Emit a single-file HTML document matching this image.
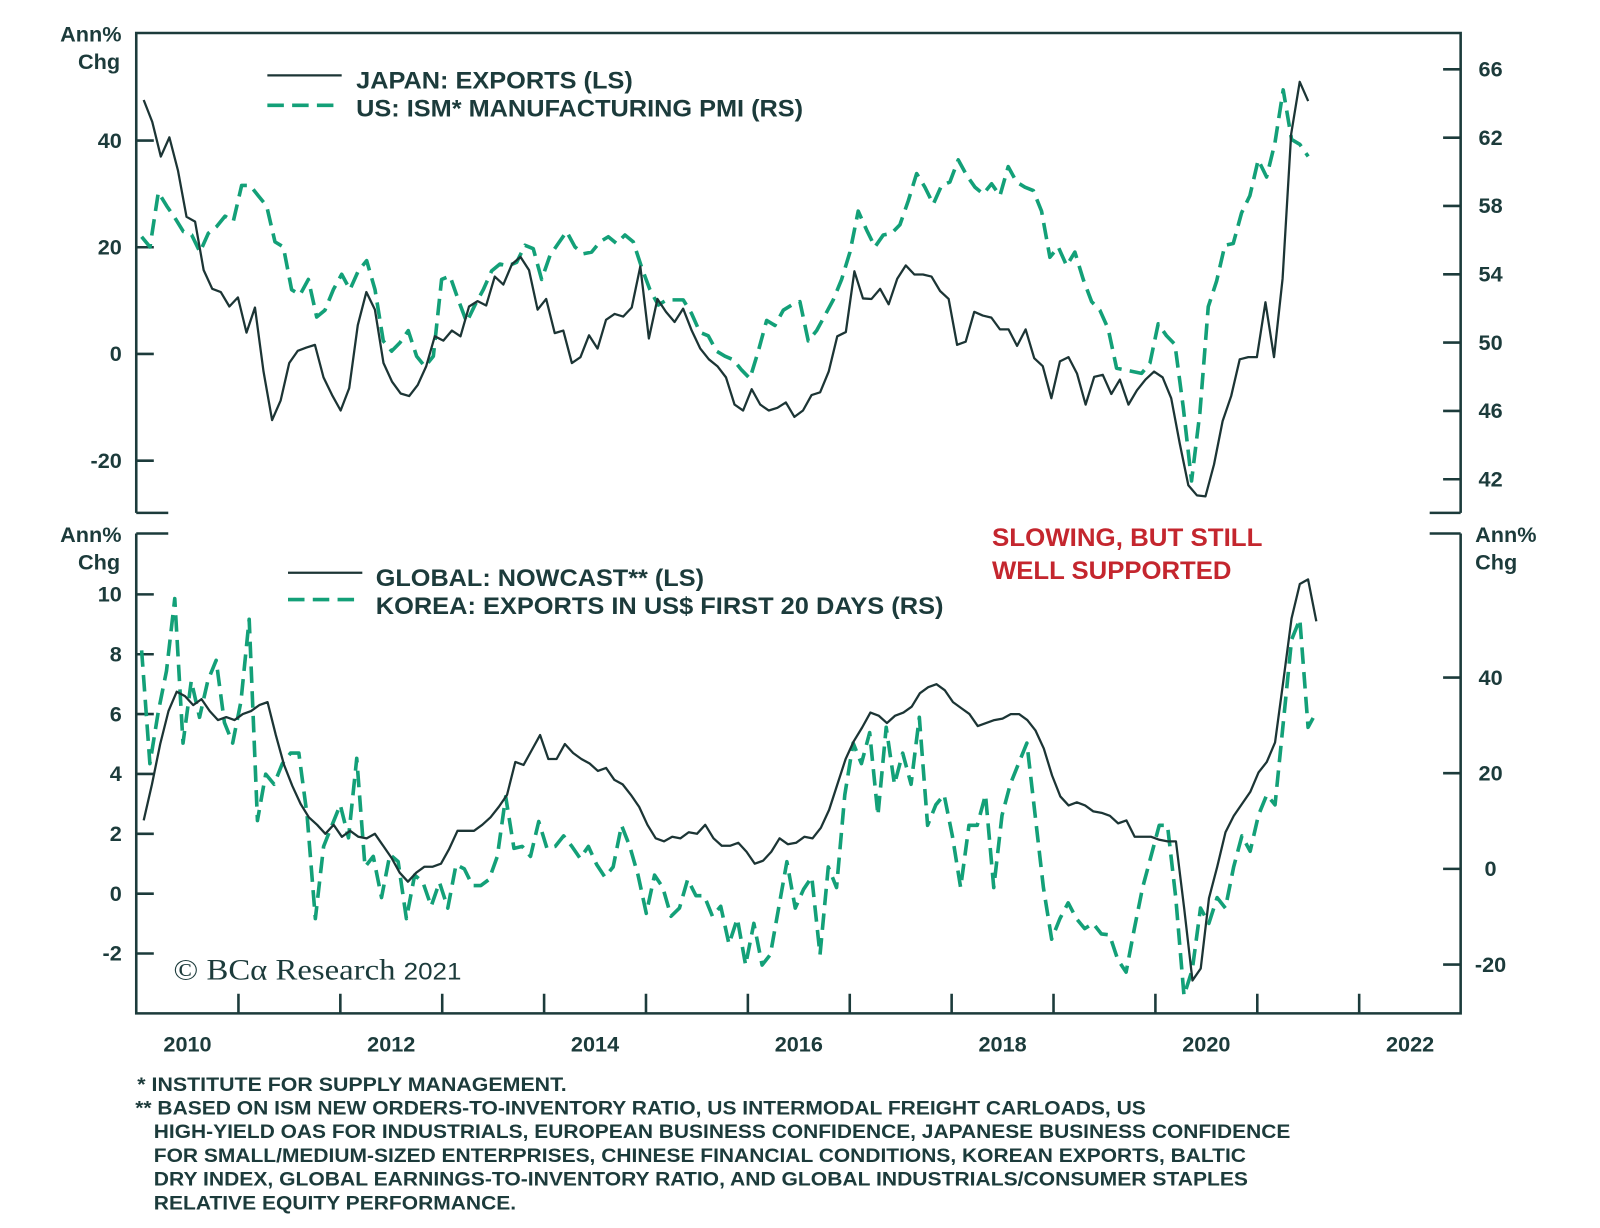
<!DOCTYPE html>
<html><head><meta charset="utf-8"><style>
html,body{margin:0;padding:0;background:#fff;}
svg{display:block;}
text{font-family:"Liberation Sans",sans-serif;font-weight:bold;fill:#1c3b3b;}
</style></head><body>
<svg id="chart" width="1600" height="1228" viewBox="0 0 1550 1190" preserveAspectRatio="none" xmlns="http://www.w3.org/2000/svg">
<g id="frame" stroke="#1c3b3b" stroke-width="2.5" fill="none">
<path d="M132,497 V32 H1415 V497"/>
<path d="M132,497 H163 M1385,497 H1415"/>
<path d="M132,517 V982 H1415 V517"/>
<path d="M132,517 H163 M1385,517 H1415"/>
</g>
<g id="ticks" stroke="#1c3b3b" stroke-width="2.5"></g>
<g id="labels" font-size="21"></g>
<g id="series"></g>
<g font-size="21" text-anchor="middle">
<text x="88" y="40">Ann%</text><text x="96" y="67">Chg</text></g>
<g font-size="21" text-anchor="middle">
<text x="88" y="525">Ann%</text><text x="96" y="552">Chg</text></g>
<g font-size="21">
<text x="1429" y="525">Ann%</text><text x="1429" y="552">Chg</text></g>
<g font-size="23">
<line x1="259" y1="73" x2="331" y2="73" stroke="#1c3535" stroke-width="2.2"/>
<text x="345" y="86" textLength="268" lengthAdjust="spacingAndGlyphs">JAPAN: EXPORTS (LS)</text>
<line x1="259" y1="102" x2="331" y2="102" stroke="#13a078" stroke-width="3.5" stroke-dasharray="16,8"/>
<text x="345" y="113" textLength="433" lengthAdjust="spacingAndGlyphs">US: ISM* MANUFACTURING PMI (RS)</text>
</g>
<g font-size="23">
<line x1="279" y1="555" x2="351" y2="555" stroke="#1c3535" stroke-width="2.2"/>
<text x="364" y="568" textLength="318" lengthAdjust="spacingAndGlyphs">GLOBAL: NOWCAST** (LS)</text>
<line x1="279" y1="581" x2="351" y2="581" stroke="#13a078" stroke-width="3.5" stroke-dasharray="16,8"/>
<text x="364" y="595" textLength="550" lengthAdjust="spacingAndGlyphs">KOREA: EXPORTS IN US$ FIRST 20 DAYS (RS)</text>
</g>
<g font-size="24">
<text x="961" y="529" textLength="262" lengthAdjust="spacingAndGlyphs" style="fill:#c4262e">SLOWING, BUT STILL</text>
<text x="961" y="561" textLength="232" lengthAdjust="spacingAndGlyphs" style="fill:#c4262e">WELL SUPPORTED</text>
</g>
<text x="168" y="949" textLength="279" lengthAdjust="spacingAndGlyphs" style="font-family:'Liberation Serif',serif;font-weight:normal;font-size:29px;fill:#1c3b3b">© BCα Research <tspan style="font-family:'Liberation Sans',sans-serif;font-size:23px">2021</tspan></text>
<g font-size="19">
<text x="133" y="1057" textLength="416" lengthAdjust="spacingAndGlyphs">*  INSTITUTE FOR SUPPLY MANAGEMENT.</text>
<text x="131" y="1080" textLength="979" lengthAdjust="spacingAndGlyphs">** BASED ON ISM NEW ORDERS-TO-INVENTORY RATIO, US INTERMODAL FREIGHT CARLOADS, US</text>
<text x="149" y="1103" textLength="1101" lengthAdjust="spacingAndGlyphs">HIGH-YIELD OAS FOR INDUSTRIALS, EUROPEAN BUSINESS CONFIDENCE, JAPANESE BUSINESS CONFIDENCE</text>
<text x="149" y="1126" textLength="1058" lengthAdjust="spacingAndGlyphs">FOR SMALL/MEDIUM-SIZED ENTERPRISES, CHINESE FINANCIAL CONDITIONS, KOREAN EXPORTS, BALTIC</text>
<text x="149" y="1149" textLength="1060" lengthAdjust="spacingAndGlyphs">DRY INDEX, GLOBAL EARNINGS-TO-INVENTORY RATIO, AND GLOBAL INDUSTRIALS/CONSUMER STAPLES</text>
<text x="149" y="1172" textLength="351" lengthAdjust="spacingAndGlyphs">RELATIVE EQUITY PERFORMANCE.</text>
</g>
</svg>
<script>
const xYears = [2010,2012,2014,2016,2018,2020,2022];
const topLeftTicks = [40,20,0,-20];
const topRightTicks = [66,62,58,54,50,46,42];
const botLeftTicks = [10,8,6,4,2,0,-2];
const botRightTicks = [40,20,0,-20];
const japanRange = [2010.07, 2021.50];
const ismRange = [2010.05, 2021.50];
const nowRange = [2010.07, 2021.58];
const koreaRange = [2010.05, 2021.58];
const japanExports = [47.6,43.5,37,40.6,34.4,25.7,24.8,15.7,12.2,11.6,8.9,10.6,4,8.7,-3.3,-12.4,-8.7,-1.7,0.6,1.2,1.7,-4.4,-7.7,-10.6,-6.4,5.4,11.6,8.3,-1.7,-5.2,-7.4,-7.9,-5.8,-2.3,3.3,2.5,4.4,3.3,8.9,9.9,9.1,14.5,13,16.8,18.2,15.7,8.3,10.3,3.9,4.4,-1.7,-0.6,3.5,1,6.4,7.5,7,8.7,16.4,2.9,10.3,7.9,6,8.5,4.4,1,-1,-2.3,-4.4,-9.5,-10.6,-6.6,-9.5,-10.6,-10.1,-9.1,-11.8,-10.6,-7.7,-7.2,-3.3,3.3,4.1,15.5,10.4,10.3,12.2,9.3,14.1,16.6,14.9,14.9,14.5,11.8,10.3,1.7,2.3,7.9,7.2,6.8,4.6,4.6,1.5,4.6,-0.8,-2.3,-8.3,-1.4,-0.6,-3.7,-9.5,-4.3,-3.9,-7.5,-4.8,-9.5,-6.8,-4.8,-3.3,-4.4,-8.3,-16.8,-24.6,-26.5,-26.7,-20.7,-12.6,-7.9,-1,-0.6,-0.6,9.7,-0.6,14.1,41.2,51,47.4];
const ismPmi = [56.2,55.6,58.8,58,57.3,56.5,56.3,55.3,56.4,56.8,57.4,57.1,59.2,59.2,58.6,58,55.9,55.6,53.1,52.8,53.7,51.5,51.9,53.1,54,53.1,54.2,54.8,53.1,50.1,49.5,50,50.7,49.2,48.6,49.2,53.7,53.9,52.5,51.2,52.2,53.1,54.2,54.6,54.5,54.7,55.7,55.5,53.7,55.1,55.8,56.5,55.6,55.2,55.3,55.9,56.2,55.8,56.3,55.9,54.4,53.1,52.2,52.5,52.5,52.5,51.7,50.6,50.4,49.5,49.2,49,48.4,47.9,49.5,51.3,51,51.9,52.2,52.4,50.1,50.7,51.6,52.5,53.7,55.3,57.7,56.6,55.6,56.3,56.4,56.9,58.3,59.9,59.1,58.1,59.2,59.4,60.7,59.8,59.1,58.7,59.3,58.6,60.3,59.4,59.1,58.9,57.7,55,55.6,54.5,55.3,53.7,52.4,51.9,50.8,48.5,48.4,48.3,48.2,48.8,51.1,50.4,49.9,46.2,41.9,45.9,52.1,53.6,55.7,55.8,57.6,58.6,60.7,59.7,61.7,64.8,61.9,61.6,60.9];
const globalNowcast = [2.45,3.65,5,6.1,6.75,6.6,6.3,6.5,6.1,5.8,5.9,5.8,6,6.1,6.3,6.4,5.3,4.3,3.6,3.0,2.55,2.3,2.0,2.3,1.9,2.1,1.9,1.85,2.0,1.6,1.2,0.7,0.4,0.7,0.9,0.9,1.0,1.5,2.1,2.1,2.1,2.3,2.55,2.9,3.3,4.4,4.3,4.8,5.3,4.5,4.5,5.0,4.7,4.5,4.35,4.1,4.2,3.8,3.65,3.3,2.9,2.3,1.85,1.75,1.9,1.85,2.05,2.0,2.3,1.85,1.6,1.6,1.7,1.4,1.0,1.1,1.4,1.85,1.65,1.7,1.9,1.85,2.2,2.8,3.65,4.5,5.1,5.55,6.05,5.95,5.7,5.95,6.05,6.25,6.7,6.9,7.0,6.8,6.4,6.2,6.0,5.6,5.7,5.8,5.85,6.0,6.0,5.8,5.45,4.85,3.95,3.25,2.95,3.05,2.95,2.75,2.7,2.6,2.35,2.45,1.9,1.9,1.9,1.8,1.75,1.75,-0.5,-2.9,-2.5,-0.15,0.9,2.05,2.6,3.0,3.4,4.05,4.4,5.05,7.1,9.2,10.35,10.5,9.1];
const koreaExports = [45.7,22,32.8,41.4,56.5,26.3,39.3,31.7,39.3,43.6,30.6,26.3,35,52.2,10.1,19.8,17.7,22,24.2,24.2,11.2,-10.4,4.7,9.1,13.4,6.5,23.1,0.4,2.6,-6,3,1.5,-10.4,-1.3,-2.8,-7.8,-2.8,-8.2,0.9,0,-3.5,-3.5,-2.2,2.6,15.1,4.3,4.7,2.6,9.9,4.3,4.7,6.9,4.7,2.2,4.7,0.9,-1.7,0.4,9.1,4.7,-1.3,-9.3,-1.3,-3.9,-9.9,-8.2,-2.2,-5.6,-5.6,-9.9,-7.8,-15.7,-10.4,-20.1,-11.4,-20.1,-17.9,-8.2,1.5,-8.2,-4.3,-1.7,-17.9,0.4,-3.9,15.5,26.3,22,28.5,11.2,29.6,17.7,24.2,17.7,31.7,9.1,13.4,15.5,6.9,-3.9,9.1,9.1,15.5,-3.9,11.2,17.7,22,26.3,11.2,-3.9,-14.7,-10.4,-7.1,-10.4,-12.5,-11.4,-13.6,-13.8,-19,-21.6,-12.5,-3.9,2.6,9.1,9.1,-6,-26.5,-21.1,-8.2,-11.4,-6,-8.2,0.4,6.9,3.7,11.2,15.5,13.4,30.6,47.9,52.2,29.6,32.8];

const NS = "http://www.w3.org/2000/svg";
const X0 = 132.3, PXY = 98.7;
function xOf(t){ return X0 + (t - 2010) * PXY; }
function yTL(v){ return 343 - v * 5.17; }
function yTR(v){ return 332 - (v - 50) * 16.55; }
function yBL(v){ return 866 - v * 29; }
function yBR(v){ return 842 - v * 4.635; }
const ticks = document.getElementById('ticks');
const labels = document.getElementById('labels');
const series = document.getElementById('series');
function mk(tag, attrs, parent){ const e = document.createElementNS(NS, tag); for (const k in attrs) e.setAttribute(k, attrs[k]); parent.appendChild(e); return e; }

function leftAxis(vals, yf, name){
  vals.forEach(v => {
    const y = yf(v);
    const t = mk('line', {x1:132, x2:149, y1:y, y2:y}, ticks);
    
    
    const l = mk('text', {x:118, y:y+7, 'text-anchor':'end'}, labels);
    l.textContent = v;
    
    
  });
}
function rightAxis(vals, yf, name){
  vals.forEach(v => {
    const y = yf(v);
    const t = mk('line', {x1:1398, x2:1415, y1:y, y2:y}, ticks);
    
    
    const l = mk('text', {x:1444, y:y+7, 'text-anchor':'middle'}, labels);
    l.textContent = v;
    
    
  });
}
leftAxis(topLeftTicks, yTL, 'top-left-axis');
rightAxis(topRightTicks, yTR, 'top-right-axis');
leftAxis(botLeftTicks, yBL, 'bottom-left-axis');
rightAxis(botRightTicks, yBR, 'bottom-right-axis');

for (let yr = 2011; yr <= 2022; yr++){
  const x = xOf(yr);
  const t = mk('line', {x1:x, x2:x, y1:982, y2:963}, ticks);
  
  
}
xYears.forEach(yr => {
  const l = mk('text', {x:xOf(yr + 0.5), y:1019, 'text-anchor':'middle'}, labels);
  l.textContent = yr;
  
  
});

function drawLine(vals, range, yf, name, dashed){
  const step = (range[1] - range[0]) / (vals.length - 1);
  const d = vals.map((v,i) => (i ? 'L' : 'M') + xOf(range[0] + i*step).toFixed(1) + ',' + yf(v).toFixed(1)).join(' ');
  const p = mk('path', {d:d, fill:'none', stroke: dashed ? '#13a078' : '#1c3535', 'stroke-width': dashed ? 3.5 : 2.2, 'stroke-linejoin':'round'}, series);
  if (dashed) p.setAttribute('stroke-dasharray', '16,8');
  
  
}
drawLine(ismPmi, ismRange, yTR, 'us-ism-pmi-line', true);
drawLine(japanExports, japanRange, yTL, 'japan-exports-line', false);
drawLine(koreaExports, koreaRange, yBR, 'korea-exports-line', true);
drawLine(globalNowcast, nowRange, yBL, 'global-nowcast-line', false);
</script>
</body></html>
